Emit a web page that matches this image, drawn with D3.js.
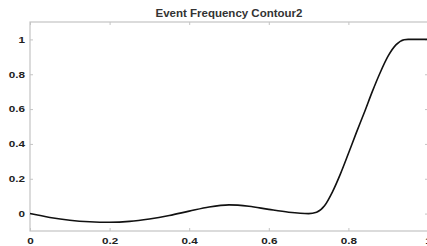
<!DOCTYPE html>
<html>
<head>
<meta charset="utf-8">
<script src="https://cdn.jsdelivr.net/npm/d3@7"></script>
<style>
  body { margin: 0; background: #fff; }
  svg { display: block; font-family: "Liberation Sans", Arial, sans-serif; }
</style>
</head>
<body>
<div id="chart"></div>
<script>
// curve values
const xs = [0, 0.05, 0.1, 0.15, 0.2, 0.25, 0.3, 0.35, 0.4, 0.45, 0.5, 0.55, 0.6, 0.65, 0.7,
            0.72, 0.74, 0.76, 0.78, 0.8, 0.82, 0.84, 0.86, 0.88, 0.9, 0.92, 0.94, 0.95, 1.0];
const ys = [0, -0.022, -0.038, -0.047, -0.05, -0.045, -0.031, -0.011, 0.014, 0.038, 0.05, 0.042, 0.024, 0.008, 0.0,
            0.008, 0.045, 0.125, 0.228, 0.345, 0.465, 0.58, 0.70, 0.81, 0.905, 0.97, 0.998, 1.0, 1.0];
const xTicks = [0, 0.2, 0.4, 0.6, 0.8, 1];
const yTicks = [0, 0.2, 0.4, 0.6, 0.8, 1];
const title = "Event Frequency Contour2";

const width = 427, height = 246;
const margin = { top: 22, right: -1, bottom: 15, left: 30 };

const svg = d3.select("#chart").append("svg")
  .attr("width", width).attr("height", height);

const x = d3.scaleLinear().domain([0, 1]).range([margin.left, width - margin.right]);
const y = d3.scaleLinear().domain([-0.1, 1.1]).range([height - margin.bottom, margin.top]);

// stretch text a bit wider, like the reference
function stretch(sel, k) {
  sel.each(function() {
    const w = this.getComputedTextLength();
    d3.select(this).attr("textLength", w * k).attr("lengthAdjust", "spacingAndGlyphs");
  });
}

const boxColor = "#c4c4c4";

// box
svg.append("rect")
  .attr("x", x(0)).attr("y", y(1.1))
  .attr("width", x(1) - x(0)).attr("height", y(-0.1) - y(1.1))
  .attr("fill", "none").attr("stroke", boxColor).attr("stroke-width", 1.2);

// axes with inward ticks
const gx = svg.append("g").attr("transform", `translate(0,${y(-0.1)})`)
  .call(d3.axisBottom(x).tickValues(xTicks).tickSize(-3).tickPadding(6).tickFormat(d3.format("")));
const gxTop = svg.append("g").attr("transform", `translate(0,${y(1.1)})`)
  .call(d3.axisTop(x).tickValues(xTicks).tickSize(-3).tickFormat(""));
const gy = svg.append("g").attr("transform", `translate(${x(0)},0)`)
  .call(d3.axisLeft(y).tickValues(yTicks).tickSize(-3).tickPadding(5).tickFormat(d3.format("")));
const gyRight = svg.append("g").attr("transform", `translate(${x(1)},0)`)
  .call(d3.axisRight(y).tickValues(yTicks).tickSize(-3).tickFormat(""));

[gx, gxTop, gy, gyRight].forEach(g => {
  g.select(".domain").remove();
  g.selectAll(".tick line").attr("stroke", boxColor);
});

[gx, gy].forEach(g => {
  g.selectAll(".tick text")
    .attr("fill", "#222").attr("font-size", 9).attr("font-weight", "bold")
    .attr("font-family", "Liberation Sans, Arial, sans-serif");
});
gx.selectAll(".tick text").attr("dy", "0.75em");
stretch(gx.selectAll(".tick text"), 1.3);
stretch(gy.selectAll(".tick text"), 1.3);

// curve
const pts = xs.map((v, i) => [v, ys[i]]);
svg.append("path")
  .datum(pts)
  .attr("fill", "none").attr("stroke", "#111").attr("stroke-width", 1.6)
  .attr("d", d3.line().x(d => x(d[0])).y(d => y(d[1])).curve(d3.curveMonotoneX));

// title
const t = svg.append("text")
  .attr("x", (x(0) + x(1)) / 2).attr("y", 17)
  .attr("text-anchor", "middle")
  .attr("font-size", 10).attr("font-weight", "bold").attr("fill", "#333")
  .text(title);
stretch(t, 1.15);
</script>
</body>
</html>
